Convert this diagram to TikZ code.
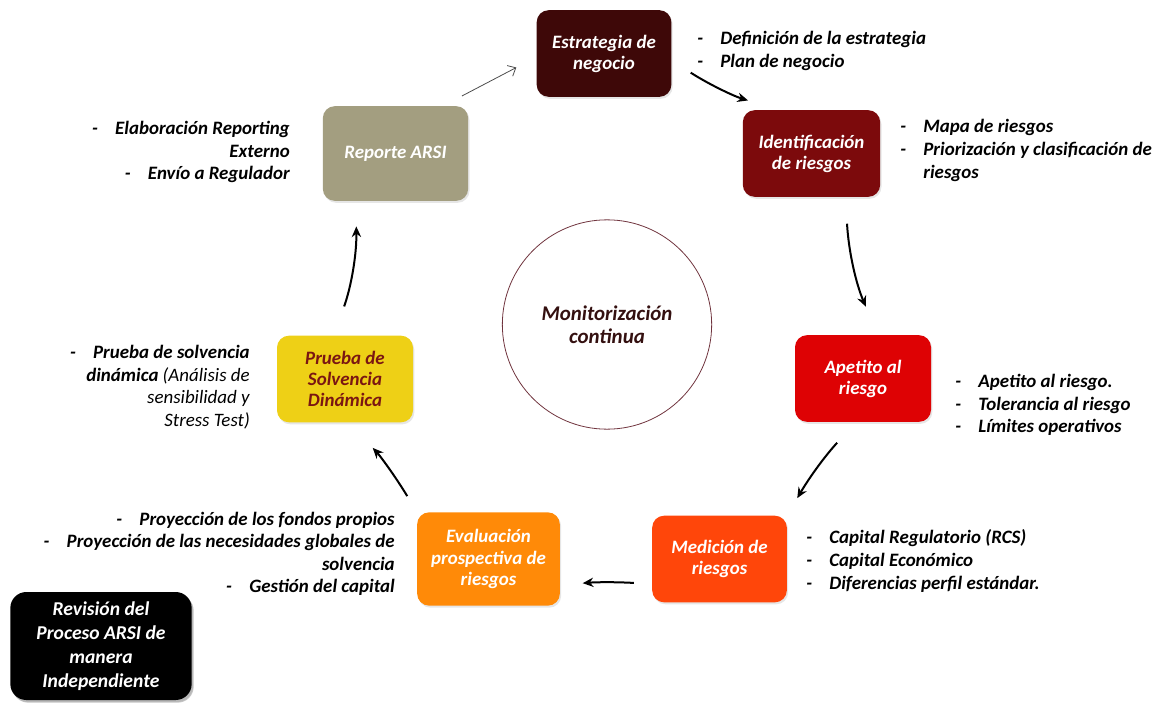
\documentclass[tikz,border=0pt]{standalone}
\usepackage{fontspec}
\setmainfont{Carlito}
\usetikzlibrary{arrows.meta,calc,shadows}

% colores de las etapas
\definecolor{estrcol}{RGB}{62,8,8}
\definecolor{identcol}{RGB}{124,10,12}
\definecolor{apetcol}{RGB}{222,2,4}
\definecolor{medcol}{RGB}{255,70,10}
\definecolor{evalcol}{RGB}{255,138,8}
\definecolor{pruebacol}{RGB}{238,208,22}
\definecolor{pruebatxt}{RGB}{122,22,18}
\definecolor{repcol}{RGB}{163,158,128}
\definecolor{circcol}{RGB}{112,52,62}
\definecolor{circtxt}{RGB}{52,16,16}

\tikzset{
  etapa/.style={rectangle, rounded corners=9pt, minimum width=101pt,
    minimum height=65pt, align=center, text=white,
    font=\bfseries\itshape\fontsize{14.2}{15.8}\selectfont,
    drop shadow={opacity=0.2, shadow xshift=1pt, shadow yshift=-1.5pt}},
  lista/.style={font=\bfseries\itshape\fontsize{14.2}{16.9}\selectfont, inner sep=0pt},
  flecha/.style={line width=1.5pt, -{Stealth[length=8pt,width=7pt]}},
  flechafina/.style={line width=0.6pt, black!70, -{Straight Barb[length=5pt,width=9pt]}},
}

\begin{document}
\begin{tikzpicture}[x=0.75pt, y=-0.75pt]
  \useasboundingbox (0,0) rectangle (1156,703);

  % Etapas del ciclo
  \node[etapa, fill=estrcol] (estr) at (604,53.5) {Estrategia de\\negocio};
  \node[etapa, fill=identcol, minimum width=103pt] (ident) at (811.5,153.5) {Identificación\\de riesgos};
  \node[etapa, fill=apetcol, minimum width=102pt] (apet) at (863,378.5) {Apetito al\\riesgo};
  \node[etapa, fill=medcol] (med) at (719.5,559) {Medición de\\riesgos};
  \node[etapa, fill=evalcol, minimum width=107pt, minimum height=70pt] (eval) at (488.5,559) {Evaluación\\prospectiva de\\riesgos};
  \node[etapa, fill=pruebacol, text=pruebatxt, minimum width=102pt] (prueba) at (345,379) {Prueba de\\Solvencia\\Dinámica};
  \node[etapa, fill=repcol, minimum width=109pt, minimum height=71pt] (rep) at (395.5,153.5) {Reporte ARSI};

  % Centro
  \node[circle, draw=circcol, line width=0.6pt, minimum size=157pt, align=center,
    text=circtxt, font=\bfseries\itshape\fontsize{15.7}{17.3}\selectfont] (monit) at (607,324.5) {Monitorización\\continua};

  % Revision independiente
  \node[etapa, fill=black, minimum width=136pt, minimum height=81pt, rounded corners=12pt,
    font=\bfseries\itshape\fontsize{14.7}{18}\selectfont,
    drop shadow={opacity=0.45, shadow xshift=1.5pt, shadow yshift=-2pt}] (revis) at (101,646)
    {Revisión del\\Proceso ARSI de\\manera\\Independiente};

  % Listas de tareas
  \node[lista, anchor=west] (estrlist) at (697,51.5) {\begin{tabular}{@{}l@{\hspace{13pt}}l@{}}
    - & Definición de la estrategia\\ - & Plan de negocio\end{tabular}};
  \node[lista, anchor=west] (identlist) at (900,151) {\begin{tabular}{@{}l@{\hspace{13pt}}l@{}}
    - & Mapa de riesgos\\ - & Priorización y clasificación de\\ & riesgos\end{tabular}};
  \node[lista, anchor=west] (apetlist) at (955,405.5) {\begin{tabular}{@{}l@{\hspace{13pt}}l@{}}
    - & Apetito al riesgo.\\ - & Tolerancia al riesgo\\ - & Límites operativos\end{tabular}};
  \node[lista, anchor=west] (medlist) at (806,562) {\begin{tabular}{@{}l@{\hspace{13pt}}l@{}}
    - & Capital Regulatorio (RCS)\\ - & Capital Económico\\ - & Diferencias perfil estándar.\end{tabular}};
  \node[lista, anchor=east] (evallist) at (395,554.5) {\begin{tabular}{@{}r@{}}
    -\hspace{13pt}Proyección de los fondos propios\\
    -\hspace{13pt}Proyección de las necesidades globales de\\
    solvencia\\
    -\hspace{13pt}Gestión del capital\end{tabular}};
  \node[lista, anchor=east] (pruebalist) at (250,388) {\begin{tabular}{@{}r@{}}
    -\hspace{13pt}Prueba de solvencia\\
    dinámica {\mdseries(Análisis de}\\
    {\mdseries sensibilidad y}\\
    {\mdseries Stress Test)}\end{tabular}};
  \node[lista, anchor=east] (replist) at (290,152.5) {\begin{tabular}{@{}r@{}}
    -\hspace{13pt}Elaboración Reporting\\
    Externo\\
    -\hspace{13pt}Envío a Regulador\end{tabular}};

  % Flechas del ciclo
  \draw[flecha, shorten <=17pt, shorten >=25pt] ($(estr.east)+(0,7)$) to[bend right=8] ($(ident.north)+(-31.5,0)$);
  \draw[flecha, shorten <=20pt, shorten >=23pt] ($(ident.south)+(34,0)$) to[bend right=10] ($(apet.north)+(15,0)$);
  \draw[flecha, shorten <=21pt, shorten >=15pt] ($(apet.south)+(-7,0)$) to[bend right=6] (med.north east);
  \draw[flecha, shorten <=13.5pt, shorten >=17pt] ($(med.west)+(0,25)$) to[bend right=4] ($(eval.east)+(0,26)$);
  \draw[flecha, shorten <=14pt, shorten >=26pt] (eval.north west) to[bend right=6] ($(prueba.south)+(4,0)$);
  \draw[flecha, shorten <=23pt, shorten >=19pt] ($(prueba.north)+(-11,0)$) to[bend right=10] ($(rep.south)+(-39.5,0)$);
  \draw[flechafina, shorten <=16pt, shorten >=17pt] ($(rep.north)+(47.5,0)$) -- ($(estr.west)+(0,3.5)$);
\end{tikzpicture}
\end{document}
